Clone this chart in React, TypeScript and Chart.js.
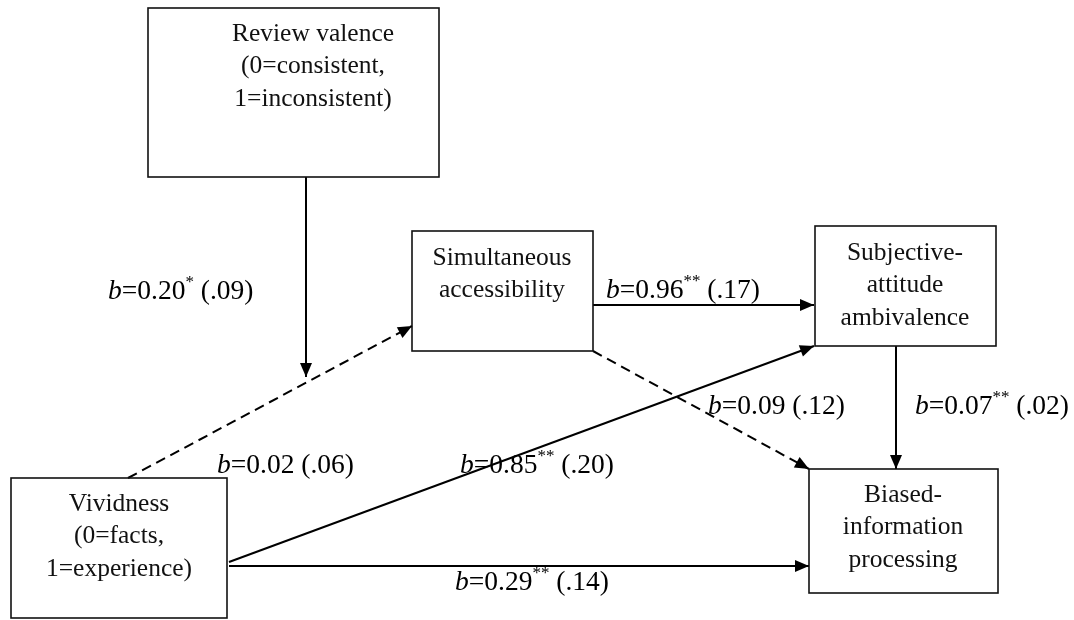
import React, { useEffect, useRef } from "react";
import { Chart, registerables } from "chart.js";

Chart.register(...registerables);

// ---- diagram data (in page-pixel units of the linear scales) ----
const nodeLabels: string[][] = [
  ["Review valence", "(0=consistent,", "1=inconsistent)"],
  ["Simultaneous", "accessibility"],
  ["Subjective-", "attitude", "ambivalence"],
  ["Vividness", "(0=facts,", "1=experience)"],
  ["Biased-", "information", "processing"],
];
// [x0, y0, x1, y1] of each box
const nodeBoxes: number[][] = [
  [148, 8, 439, 177],
  [412, 231, 593, 351],
  [815, 226, 996, 346],
  [11, 478, 227, 618],
  [809, 469, 998, 593],
];
// horizontal centre and vertical centre of first text line in each box
const nodeTextX: number[] = [313, 502, 905, 119, 903];
const nodeFirstLineY: number[] = [34, 258, 253, 504, 495];

// path endpoints
const edgeFrom: number[][] = [
  [306, 177],
  [128, 478],
  [593, 305],
  [593, 351],
  [896, 346],
  [229, 562],
  [229, 566],
];
const edgeTo: number[][] = [
  [306, 377],
  [412, 326],
  [814, 305],
  [809, 469],
  [896, 469],
  [814, 346],
  [809, 566],
];
const edgeDashed: boolean[] = [false, true, false, true, false, false, false];

// path coefficients
const coefB: string[] = ["0.20", "0.02", "0.96", "0.85", "0.09", "0.07", "0.29"];
const coefSig: string[] = ["*", "", "**", "**", "", "**", "**"];
const coefSE: string[] = [".09", ".06", ".17", ".20", ".12", ".02", ".14"];
const coefAt: number[][] = [
  [108, 289],
  [217, 463],
  [606, 288],
  [460, 463],
  [708, 404],
  [915, 404],
  [455, 580],
];

const FONT = '"Liberation Serif", "Times New Roman", serif';

const diagramPlugin = {
  id: "diagram",
  beforeDraw(chart: any) {
    const { ctx, width, height } = chart;
    ctx.save();
    ctx.fillStyle = "#fff";
    ctx.fillRect(0, 0, width, height);
    ctx.restore();
  },
  afterDatasetsDraw(chart: any) {
    const { ctx } = chart;
    const xs = chart.scales.x;
    const ys = chart.scales.y;
    const px = (v: number) => xs.getPixelForValue(v);
    const py = (v: number) => ys.getPixelForValue(v);
    ctx.save();
    // boxes
    ctx.strokeStyle = "#111";
    ctx.lineWidth = 1.6;
    nodeBoxes.forEach((b, i) => {
      const x0 = px(b[0]), y0 = py(b[1]), x1 = px(b[2]), y1 = py(b[3]);
      ctx.strokeRect(x0, y0, x1 - x0, y1 - y0);
      ctx.fillStyle = "#111";
      ctx.font = `25.5px ${FONT}`;
      ctx.textAlign = "center";
      ctx.textBaseline = "middle";
      const cx = px(nodeTextX[i]);
      nodeLabels[i].forEach((line, j) => {
        ctx.fillText(line, cx, py(nodeFirstLineY[i] + j * 32.5));
      });
    });
    // arrowheads
    ctx.fillStyle = "#000";
    edgeTo.forEach((t, i) => {
      const f = edgeFrom[i];
      const fx = px(f[0]), fy = py(f[1]), tx = px(t[0]), ty = py(t[1]);
      const dx = tx - fx, dy = ty - fy;
      const len = Math.hypot(dx, dy);
      const ux = dx / len, uy = dy / len;
      const L = 14, W = 6;
      ctx.beginPath();
      ctx.moveTo(tx, ty);
      ctx.lineTo(tx - ux * L - uy * W, ty - uy * L + ux * W);
      ctx.lineTo(tx - ux * L + uy * W, ty - uy * L - ux * W);
      ctx.closePath();
      ctx.fill();
    });
    // coefficient labels
    ctx.textAlign = "left";
    ctx.textBaseline = "alphabetic";
    coefB.forEach((b, i) => {
      let x = px(coefAt[i][0]);
      const base = py(coefAt[i][1]) + 9.5;
      const parts: { t: string; f: string; dy: number }[] = [
        { t: "b", f: `italic 27.5px ${FONT}`, dy: 0 },
        { t: "=" + b, f: `27.5px ${FONT}`, dy: 0 },
      ];
      if (coefSig[i]) parts.push({ t: coefSig[i], f: `17px ${FONT}`, dy: -12 });
      parts.push({ t: " (" + coefSE[i] + ")", f: `27.5px ${FONT}`, dy: 0 });
      ctx.fillStyle = "#000";
      parts.forEach((p) => {
        ctx.font = p.f;
        ctx.fillText(p.t, x, base + p.dy);
        x += ctx.measureText(p.t).width;
      });
    });
    ctx.restore();
  },
};

export default function App() {
  const ref = useRef<HTMLCanvasElement | null>(null);
  useEffect(() => {
    document.body.style.margin = "0";
    const canvas = ref.current!;
    const datasets = edgeFrom.map((f, i) => ({
      data: [
        { x: f[0], y: f[1] },
        { x: edgeTo[i][0], y: edgeTo[i][1] },
      ],
      borderColor: "#000",
      borderWidth: 2,
      borderDash: edgeDashed[i] ? [10, 6] : [],
      pointRadius: 0,
      fill: false,
      tension: 0,
    }));
    const chart = new Chart(canvas, {
      type: "line",
      data: { datasets },
      options: {
        animation: false,
        responsive: false,
        devicePixelRatio: 1,
        layout: { padding: 0 },
        plugins: { legend: { display: false }, tooltip: { enabled: false } },
        scales: {
          x: { type: "linear", min: 0, max: 1074, display: false },
          y: { type: "linear", min: 0, max: 620, reverse: true, display: false },
        },
      },
      plugins: [diagramPlugin],
    });
    return () => chart.destroy();
  }, []);
  return (
    <div style={{ position: "fixed", left: 0, top: 0, width: 1074, height: 620 }}>
      <canvas ref={ref} width={1074} height={620} />
    </div>
  );
}
